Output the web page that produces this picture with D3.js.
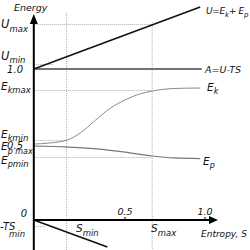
<!DOCTYPE html>
<html><head><meta charset="utf-8">
<script src="https://cdn.jsdelivr.net/npm/d3@7"></script>
<style>body{margin:0;background:#fff}svg{display:block}text{font-family:"DejaVu Sans",sans-serif;font-style:italic;fill:#111}</style>
</head><body><div id="chart"></div>
<script>
// Data (S = entropy, E = energy)
const sAxisStart = -0.07;
const ekS = [-0.07, 0.03, 0.14, 0.22, 0.31, 0.41, 0.50, 0.59, 0.67, 0.81, 0.97];
const ekE = [0.503, 0.51, 0.53, 0.576, 0.656, 0.742, 0.795, 0.834, 0.854, 0.871, 0.874];
const epS = [-0.07, 0.14, 0.34, 0.50, 0.67, 0.81, 0.97];
const epE = [0.49, 0.483, 0.47, 0.45, 0.424, 0.411, 0.407];
const uS = [-0.07, 0.97];
const uE = [1.0, 1.41];
const aS = [-0.07, 0.98];
const aE = [1.0, 1.0];
const tsS = [-0.07, 0.39];
const tsE = [0.0, -0.179];
const sMin = 0.135, sMax = 0.67;
const refLevels = [
  {name:"Umax", v:1.298, to:sMax},
  {name:"Umin", v:1.033, to:0.05},
  {name:"Ekmax", v:0.861, to:sMax},
  {name:"Ekmin", v:0.53, to:sMin},
  {name:"Epmax", v:0.49, to:sMin},
  {name:"Epmin", v:0.417, to:sMax},
  {name:"TSmin", v:-0.04, to:0.0}
];
const xTicks = [0.5, 1.0];
const xTickLabels = ["0.5", "1.0"];
const yTicks = [1.0, 0.5, 0];
const yTickLabels = ["1.0", "0.5", "0"];

const W = 250, H = 250;
const x = d3.scaleLinear().domain([0, 1]).range([45, 205]);
const y = d3.scaleLinear().domain([0, 1]).range([220, 69]);
const svg = d3.select("#chart").append("svg").attr("width", W).attr("height", H);

const line = d3.line().x(d => x(d[0])).y(d => y(d[1]));
const curve = d3.line().x(d => x(d[0])).y(d => y(d[1])).curve(d3.curveMonotoneX);
const zip = (a, b) => a.map((v, i) => [v, b[i]]);

const dotted = "#b0b0b0";
// vertical reference lines
svg.append("line").attr("x1", x(sMin)).attr("x2", x(sMin)).attr("y1", 13).attr("y2", H)
  .attr("stroke", dotted).attr("stroke-width", 1).attr("stroke-dasharray", "1,1");
svg.append("line").attr("x1", x(sMax)).attr("x2", x(sMax)).attr("y1", 22).attr("y2", H)
  .attr("stroke", dotted).attr("stroke-width", 1).attr("stroke-dasharray", "1,1");
// horizontal reference lines
refLevels.forEach(r => {
  svg.append("line").attr("x1", x(sAxisStart)).attr("x2", x(r.to))
    .attr("y1", Math.round(y(r.v)) + 0.5).attr("y2", Math.round(y(r.v)) + 0.5)
    .attr("stroke", dotted).attr("stroke-width", 1).attr("stroke-dasharray", "1,1");
});

// curves
svg.append("path").attr("d", curve(zip(ekS, ekE))).attr("fill", "none").attr("stroke", "#8a8a8a").attr("stroke-width", 1);
svg.append("path").attr("d", curve(zip(epS, epE))).attr("fill", "none").attr("stroke", "#777").attr("stroke-width", 1.2);
svg.append("path").attr("d", line(zip(aS, aE))).attr("fill", "none").attr("stroke", "#444").attr("stroke-width", 1.5);
svg.append("path").attr("d", line(zip(uS, uE))).attr("fill", "none").attr("stroke", "#111").attr("stroke-width", 1.6);
svg.append("path").attr("d", line(zip(tsS, tsE))).attr("fill", "none").attr("stroke", "#111").attr("stroke-width", 1.6);

// axes
const ax0 = x(sAxisStart);
svg.append("line").attr("x1", ax0).attr("x2", ax0).attr("y1", H).attr("y2", 20).attr("stroke", "#000").attr("stroke-width", 2);
svg.append("path").attr("d", `M${ax0},14 L${ax0-4},24 L${ax0+4},24 Z`).attr("fill", "#000");
svg.append("line").attr("x1", ax0).attr("x2", 212).attr("y1", y(0)).attr("y2", y(0)).attr("stroke", "#000").attr("stroke-width", 2);
svg.append("path").attr("d", `M218,${y(0)} L209,${y(0)-4} L209,${y(0)+4} Z`).attr("fill", "#000");

// x ticks
xTicks.forEach((t, i) => {
  svg.append("line").attr("x1", x(t)).attr("x2", x(t)).attr("y1", y(0) - 3).attr("y2", y(0)).attr("stroke", "#000");
  svg.append("text").attr("x", x(t)).attr("y", y(0) - 5).attr("text-anchor", "middle").attr("font-size", 9.5).text(xTickLabels[i]);
});
// y tick labels
const yLabX = [23, 23, 27];
yTicks.forEach((t, i) => {
  svg.append("text").attr("x", yLabX[i]).attr("y", y(t) + (t === 0 ? -3 : 4)).attr("text-anchor", "end").attr("font-size", 10).text(yTickLabels[i]);
});

function lab(px, py, main, sub, size, subSize, dy) {
  const t = svg.append("text").attr("x", px).attr("y", py).attr("font-size", size);
  t.append("tspan").text(main);
  if (sub) t.append("tspan").attr("dy", dy).attr("font-size", subSize).text(sub);
  return t;
}
// left labels
lab(1, 28, "U", "max", 11.5, 8.5, 4);
lab(1, 60, "U", "min", 11.5, 8.5, 3);
const ek = svg.append("text").attr("x", 1).attr("y", 90).attr("font-size", 10.5);
ek.append("tspan").text("E"); ek.append("tspan").attr("dy", 3).attr("font-size", 8).text("k");
ek.append("tspan").attr("dy", 0).attr("font-size", 8.5).text("max");
const ekm = svg.append("text").attr("x", 1).attr("y", 138).attr("font-size", 10.5);
ekm.append("tspan").text("E"); ekm.append("tspan").attr("dy", 3).attr("font-size", 8).text("k");
ekm.append("tspan").attr("dy", 0).attr("font-size", 8.5).text("min");
const epx = svg.append("text").attr("x", 1).attr("y", 150).attr("font-size", 10.5);
epx.append("tspan").text("E"); epx.append("tspan").attr("dy", 3.5).attr("font-size", 8).text("p max");
const epn = svg.append("text").attr("x", 1).attr("y", 164).attr("font-size", 10.5);
epn.append("tspan").text("E"); epn.append("tspan").attr("dy", 3).attr("font-size", 8).text("p");
epn.append("tspan").attr("dy", 0).attr("font-size", 8.5).text("min");
svg.append("text").attr("x", 0).attr("y", 230).attr("font-size", 10).text("-TS");
svg.append("text").attr("x", 9).attr("y", 237).attr("font-size", 8.5).text("min");
lab(76, 232, "S", "min", 10.5, 8.5, 4);
lab(151, 232, "S", "max", 10.5, 8.5, 4);
// top / right labels
svg.append("text").attr("x", 14).attr("y", 11).attr("font-size", 9.5).text("Energy");
svg.append("text").attr("x", 201).attr("y", 237).attr("font-size", 9).text("Entropy, S");
const ul = svg.append("text").attr("x", 206).attr("y", 14).attr("font-size", 9).attr("letter-spacing", -0.3);
ul.append("tspan").text("U=E"); ul.append("tspan").attr("dy", 2.5).attr("font-size", 7).text("k");
ul.append("tspan").attr("dy", -2.5).text("+ E"); ul.append("tspan").attr("dy", 2.5).attr("font-size", 7).text("p");
svg.append("text").attr("x", 205).attr("y", 73).attr("font-size", 9.5).text("A=U-TS");
lab(207, 91, "E", "k", 10.5, 8, 3);
lab(203, 165, "E", "p", 10.5, 8, 3);
</script></body></html>
